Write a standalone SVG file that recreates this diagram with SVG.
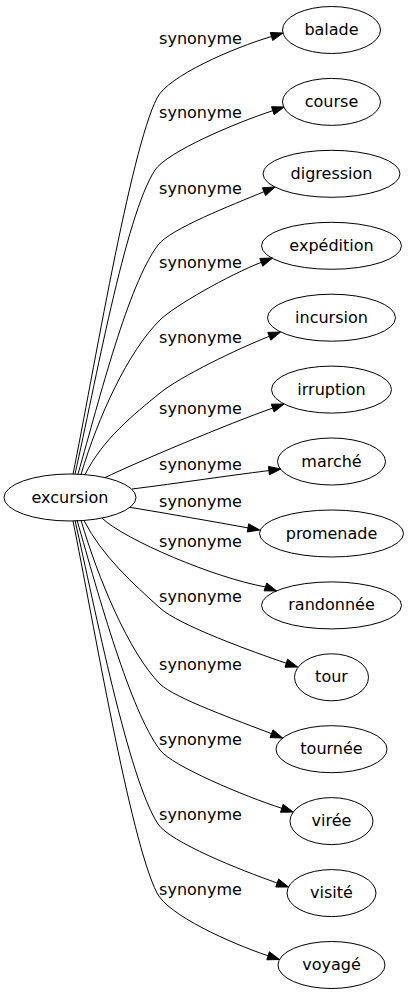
<svg xmlns="http://www.w3.org/2000/svg" width="409" height="995" viewBox="0 0 409 995">
<style>
.n ellipse{fill:none;stroke:#000;stroke-width:1}
text{font-family:"DejaVu Sans","Liberation Sans",sans-serif;font-size:16px;fill:#000;text-anchor:middle}
.e path{fill:none;stroke:#000;stroke-width:1}
.e polygon{fill:#000;stroke:#000;stroke-width:1}
</style>
<rect width="409" height="995" fill="#fff"/>
<g id="edges" class="e">
<path d="M73,474 C93,376 130,151 157,98 C168,76 233,48 271.5,36.5"/><polygon points="283,33 272.7,40.5 270.3,32.5"/>
<path d="M75,474 C95,386 125,216 155,170 C167,152 235,123 272.8,110.7"/><polygon points="284.2,107 274.1,114.7 271.5,106.7"/>
<path d="M78,474 C100,397 128,285 158,245 C170,229 232,205 264,191.7"/><polygon points="275,187 265.6,195.6 262.4,187.8"/>
<path d="M81,474.5 C98,417 128,351.5 160,320 C174,306 229,275 261.3,262.3"/><polygon points="272.5,258 262.8,266.2 259.8,258.4"/>
<path d="M85,474.6 C103,439 133,415 160,393 C179.5,377 237,349 269.3,336.3"/><polygon points="280.5,332 270.8,340.2 267.8,332.4"/>
<path d="M105,477.6 C135,463 230,423 272.7,408.1"/><polygon points="284,404 274.1,412 271.3,404.2"/>
<path d="M132,489 C180,483 225,476 268.9,470.6"/><polygon points="280.8,469 269.4,474.8 268.4,466.4"/>
<path d="M130,507.3 C170,514 210,521 248,527.9"/><polygon points="259.8,530 247.3,532 248.7,523.8"/>
<path d="M102,518.1 C125,540 215,578 265.4,586.9"/><polygon points="276.7,591 264,590.8 266.8,583"/>
<path d="M84,520.5 C102,556 134,584.6 160,608 C178.5,625 253,652 286.3,663.2"/><polygon points="297.7,667 285,667.2 287.6,659.2"/>
<path d="M81,520.3 C98,578 128.5,652 160,684 C174,698 239,721 271.5,733.7"/><polygon points="282.7,738 270,737.6 273,729.8"/>
<path d="M77,520 C99,597 130,710 160,750 C172,766 244,796 281.8,808.3"/><polygon points="293.2,812 280.5,812.3 283.1,804.3"/>
<path d="M75,520.5 C95,608 128,778 158,824 C170,842 240,870 277.2,883"/><polygon points="288.5,887 275.8,887 278.6,879"/>
<path d="M73,521 C93,619 130,840 157,893 C168,915 230,943 268.1,955.8"/><polygon points="279.5,959.5 266.8,959.8 269.4,951.8"/>
<text x="200.5" y="44">synonyme</text>
<text x="200.5" y="118">synonyme</text>
<text x="200.5" y="194">synonyme</text>
<text x="200.5" y="268">synonyme</text>
<text x="200.5" y="343">synonyme</text>
<text x="200.5" y="414">synonyme</text>
<text x="200.5" y="470">synonyme</text>
<text x="200.5" y="507">synonyme</text>
<text x="200.5" y="547">synonyme</text>
<text x="200.5" y="602">synonyme</text>
<text x="200.5" y="670">synonyme</text>
<text x="200.5" y="745">synonyme</text>
<text x="200.5" y="820">synonyme</text>
<text x="200.5" y="895">synonyme</text>
</g>
<g id="excursion" class="n"><ellipse cx="70" cy="497.5" rx="66" ry="23.5"/><text x="70" y="502.5">excursion</text></g>
<g id="balade" class="n"><ellipse cx="331.5" cy="30" rx="49" ry="23.5"/><text x="331.5" y="35">balade</text></g>
<g id="course" class="n"><ellipse cx="331.5" cy="101.9" rx="49" ry="23.5"/><text x="331.5" y="106.9">course</text></g>
<g id="digression" class="n"><ellipse cx="331.5" cy="173.8" rx="68.5" ry="23.5"/><text x="331.5" y="178.8">digression</text></g>
<g id="expedition" class="n"><ellipse cx="331.5" cy="245.8" rx="70" ry="23.5"/><text x="331.5" y="250.8">expédition</text></g>
<g id="incursion" class="n"><ellipse cx="331.5" cy="317.7" rx="64" ry="23.5"/><text x="331.5" y="322.7">incursion</text></g>
<g id="irruption" class="n"><ellipse cx="331.5" cy="389.6" rx="60" ry="23.5"/><text x="331.5" y="394.6">irruption</text></g>
<g id="marche" class="n"><ellipse cx="331.5" cy="461.5" rx="54" ry="23.5"/><text x="331.5" y="466.5">marché</text></g>
<g id="promenade" class="n"><ellipse cx="331.5" cy="533.5" rx="72" ry="23.5"/><text x="331.5" y="538.5">promenade</text></g>
<g id="randonnee" class="n"><ellipse cx="331.5" cy="605.4" rx="70" ry="23.5"/><text x="331.5" y="610.4">randonnée</text></g>
<g id="tour" class="n"><ellipse cx="331.5" cy="677.3" rx="37" ry="23.5"/><text x="331.5" y="682.3">tour</text></g>
<g id="tournee" class="n"><ellipse cx="331.5" cy="749.2" rx="55.5" ry="23.5"/><text x="331.5" y="754.2">tournée</text></g>
<g id="viree" class="n"><ellipse cx="331.5" cy="821.1" rx="41.5" ry="23.5"/><text x="331.5" y="826.1">virée</text></g>
<g id="visite" class="n"><ellipse cx="331.5" cy="893.1" rx="44.5" ry="23.5"/><text x="331.5" y="898.1">visité</text></g>
<g id="voyage" class="n"><ellipse cx="331.5" cy="965" rx="53.5" ry="23.5"/><text x="331.5" y="970">voyagé</text></g>
</svg>
